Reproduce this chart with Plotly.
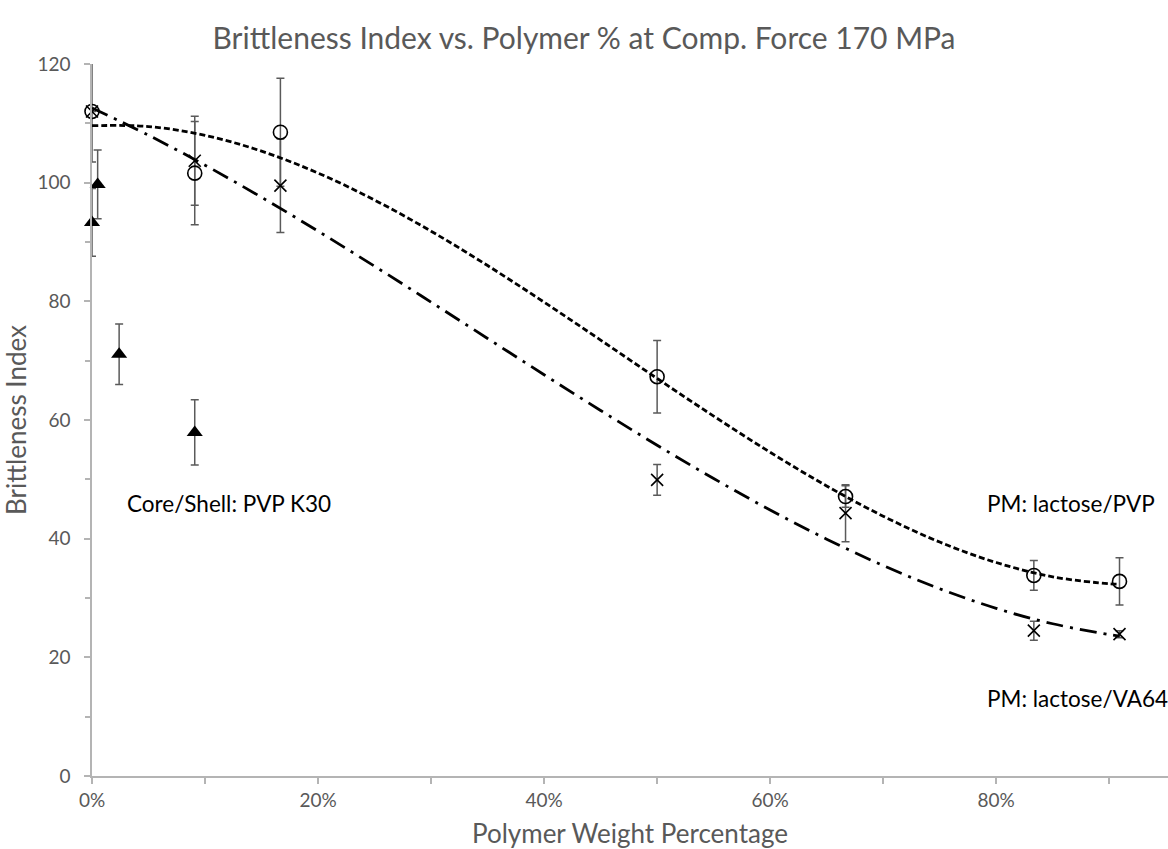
import plotly.graph_objects as go

# Polymer weight percentage of each blend (%)
pm_pct = [0.0, 9.09, 16.67, 50.0, 66.67, 83.33, 90.91]

# PM: lactose/PVP
pvp_bi = [112.0, 101.6, 108.5, 67.3, 47.1, 33.8, 32.8]
pvp_sd = [8.5, 8.7, 9.1, 6.1, 1.8, 2.5, 4.0]

# PM: lactose/VA64
va64_bi = [112.0, 103.7, 99.5, 49.9, 44.3, 24.5, 23.9]
va64_sd = [0.0, 7.5, 7.9, 2.6, 4.8, 1.6, 0.6]

# Core/Shell: PVP K30
cs_pct = [0.0, 0.5, 2.4, 9.09]
cs_bi = [93.3, 99.7, 71.1, 57.9]
cs_sd = [5.7, 5.8, 5.1, 5.5]

# Polynomial trend lines (sampled along the fitted curves)
trend_pct = [0, 5, 10, 15, 20, 25, 30, 35, 40, 45, 50, 55, 60, 65, 70, 75, 80, 85, 90, 90.91]
pvp_trend = [109.6, 109.46, 107.97, 105.31, 101.62, 97.07, 91.82, 86.03, 79.86, 73.47,
             67.0, 60.66, 54.56, 48.89, 43.79, 39.43, 35.98, 33.57, 32.40, 32.33]
va64_trend = [112.6, 107.99, 102.95, 97.54, 91.83, 85.92, 79.86, 73.74, 67.63, 61.61,
              55.75, 50.14, 44.83, 39.92, 35.47, 31.56, 28.26, 25.66, 23.83, 23.58]

x_ticks = [0, 20, 40, 60, 80]

def frac(values):
    return [v / 100.0 for v in values]

FONT = "Lato"
GRAY_TXT = "#595959"
AXIS_GRAY = "#b4b4b4"
ERR_GRAY = "#5a5a5a"

fig = go.Figure()

def err_trace(xs, ys, sd):
    return go.Scatter(
        x=frac(xs), y=ys, mode="markers",
        marker=dict(size=1, color="rgba(0,0,0,0)"),
        error_y=dict(type="data", array=sd, visible=True,
                     color=ERR_GRAY, thickness=1.5, width=4),
        cliponaxis=True, hoverinfo="skip", showlegend=False,
    )

fig.add_trace(err_trace(pm_pct, pvp_bi, pvp_sd))
fig.add_trace(err_trace(pm_pct, va64_bi, va64_sd))
fig.add_trace(err_trace(cs_pct, cs_bi, cs_sd))

fig.add_trace(go.Scatter(
    x=frac(pm_pct), y=pvp_bi, mode="markers", name="PM: lactose/PVP",
    marker=dict(symbol="circle-open", size=14, color="black", line=dict(width=1.6)),
    cliponaxis=False, showlegend=False,
))
fig.add_trace(go.Scatter(
    x=frac(pm_pct), y=va64_bi, mode="markers", name="PM: lactose/VA64",
    marker=dict(symbol="x-thin-open", size=12, color="black", line=dict(width=1.6)),
    cliponaxis=False, showlegend=False,
))
fig.add_trace(go.Scatter(
    x=frac(cs_pct), y=cs_bi, mode="markers", name="Core/Shell: PVP K30",
    marker=dict(symbol="triangle-up", size=14, color="black"),
    cliponaxis=False, showlegend=False,
))

fig.add_trace(go.Scatter(
    x=frac(trend_pct), y=pvp_trend, mode="lines", line_shape="spline",
    line=dict(color="black", width=2.8, dash="6px,3px"),
    hoverinfo="skip", showlegend=False,
))
fig.add_trace(go.Scatter(
    x=frac(trend_pct), y=va64_trend, mode="lines", line_shape="spline",
    line=dict(color="black", width=2.8, dash="17px,7px,3px,7px"),
    hoverinfo="skip", showlegend=False,
))

labels = [
    ("Core/Shell: PVP K30", 0.029, 46.0),
    ("PM: lactose/PVP", 0.790, 46.0),
    ("PM: lactose/VA64", 0.790, 13.0),
]
for text, xv, yv in labels:
    fig.add_annotation(x=xv, y=yv, xref="x", yref="y", text=text, showarrow=False,
                       xanchor="left", yanchor="middle",
                       font=dict(family=FONT, size=22.5, color="black"))

fig.update_layout(
    width=1168, height=849,
    margin=dict(l=92, r=0, t=64, b=73),
    paper_bgcolor="white", plot_bgcolor="white",
    font=dict(family=FONT, color=GRAY_TXT),
    title=dict(text="Brittleness Index vs. Polymer % at Comp. Force 170 MPa",
               x=0.5, xanchor="center", xref="container",
               y=1 - 38 / 849, yref="container", yanchor="middle",
               font=dict(family=FONT, size=30, color=GRAY_TXT)),
    xaxis=dict(
        range=[0, 0.952], tickvals=frac(x_ticks), tickformat=".0%",
        showline=True, linecolor=AXIS_GRAY, linewidth=1.5,
        ticks="outside", ticklen=6, tickcolor=AXIS_GRAY, tickwidth=1.5,
        minor=dict(ticks="outside", dtick=0.1, tick0=0, ticklen=6,
                   tickcolor=AXIS_GRAY, tickwidth=1.5),
        showgrid=False, zeroline=False,
        tickfont=dict(family=FONT, size=19, color=GRAY_TXT),
        title=dict(text="Polymer Weight Percentage", standoff=16,
                   font=dict(family=FONT, size=26, color=GRAY_TXT)),
    ),
    yaxis=dict(
        range=[0, 120], dtick=20,
        showline=True, linecolor=AXIS_GRAY, linewidth=1.5,
        ticks="outside", ticklen=6, tickcolor=AXIS_GRAY, tickwidth=1.5,
        ticklabelstandoff=10,
        minor=dict(ticks="outside", dtick=10, ticklen=5,
                   tickcolor=AXIS_GRAY, tickwidth=1.5),
        showgrid=False, zeroline=False,
        tickfont=dict(family=FONT, size=19, color=GRAY_TXT),
        title=dict(text="Brittleness Index", standoff=4,
                   font=dict(family=FONT, size=26, color=GRAY_TXT)),
    ),
)

fig.write_html("out.html")
